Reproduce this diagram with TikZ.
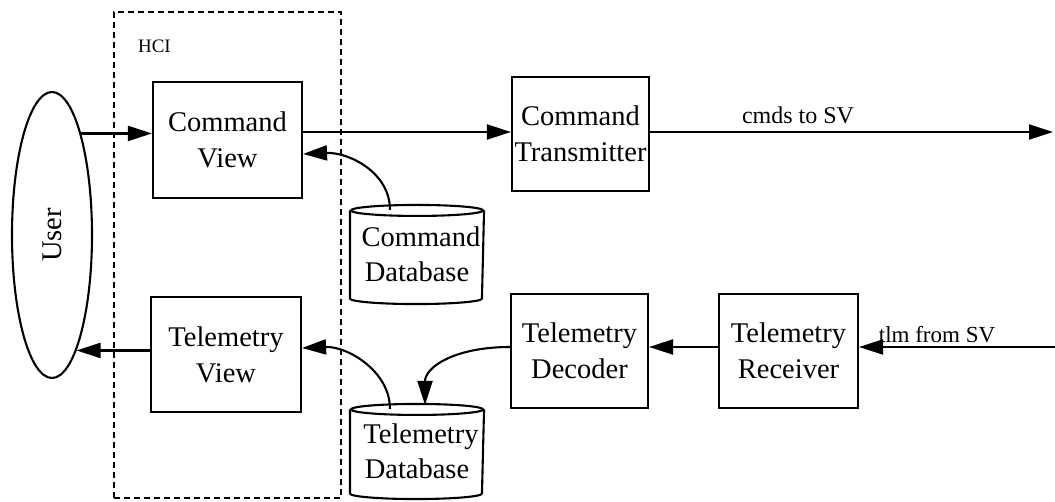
\documentclass[tikz,border=0pt]{standalone}
\usepackage{fontspec}
\setmainfont{Liberation Serif}
\usetikzlibrary{arrows.meta,calc,shapes.geometric}
\begin{document}
\begin{tikzpicture}[x=1pt,y=-1pt,
  line width=2.1pt,
  box/.style={draw, rectangle, inner sep=0pt, align=center, font=\fontsize{28.5}{36}\selectfont},
  dbbox/.style={rectangle, inner sep=0pt, align=center, minimum width=132pt, font=\fontsize{28.5}{35}\selectfont},
  arr/.style={-{Triangle[length=24pt,width=15pt]}},
  lbl/.style={inner sep=0pt, anchor=base, font=\fontsize{24}{28}\selectfont},
  hcibox/.style={draw, rectangle, dash pattern=on 6pt off 4pt, line width=1.4pt, minimum width=227pt, minimum height=486pt, inner sep=0pt},
]
\useasboundingbox (0,0) rectangle (1055,502);

% HCI boundary
\node[hcibox] (hci) at (227.5,255) {};
\node[inner sep=0pt, anchor=base west, font=\fontsize{19}{22}\selectfont] (hcil) at (137,53) {HCI};

% User
\node[draw, ellipse, minimum width=80pt, minimum height=286pt, inner sep=0pt,
      font=\fontsize{28.5}{34}\selectfont] (user) at (52,235) {\rotatebox{90}{User}};

% boxes
\node[box, minimum width=149pt, minimum height=116pt] (cv) at (227.5,140) {Command\\View};
\node[box, minimum width=150pt, minimum height=115pt] (tv) at (226,354.5) {Telemetry\\View};
\node[box, minimum width=137pt, minimum height=114pt] (ct) at (580.5,134) {Command\\Transmitter};
\node[box, minimum width=137pt, minimum height=114pt] (td) at (579.5,351) {Telemetry\\Decoder};
\node[box, minimum width=139pt, minimum height=114pt] (tr) at (788.5,351) {Telemetry\\Receiver};

% databases
\node[dbbox, minimum height=97pt] (cdb) at (417,254.5) {\hspace*{8pt}Command\\Database};
\node[dbbox, minimum height=93pt] (tdb) at (417,451.5) {\hspace*{8pt}Telemetry\\Database};
\foreach \n in {cdb,tdb}{
  \draw ($(\n.north west)+(0,5.5)$) -- ($(\n.south west)+(0,-5.5)$)
        arc[start angle=180, end angle=360, x radius=66pt, y radius=5.5pt]
        -- ($(\n.north east)+(0,5.5)$);
  \draw ($(\n.north)+(0,5.5)$) ellipse[x radius=66pt, y radius=5.5pt];
}

% helper coordinates
\coordinate (r1) at (0,132);
\coordinate (svout) at (1053,132);
\coordinate (svin) at (1055,347);
\coordinate (cdbtop) at ($(cdb.north)+(-27,5)$);
\coordinate (cvin) at ($(cv.east)+(0,14)$);
\coordinate (tdbtop) at ($(tdb.north)+(-27,5)$);
\coordinate (tvin) at ($(tv.east)+(0,-6.5)$);
\coordinate (tdbin) at ($(tdb.north)+(8,1)$);

% connectors
\draw[arr] (user.74) -- (cv.west |- user.74);
\draw[arr] (tv.west |- user.-78) -- (user.-78);
\draw[arr] (cv.east |- r1) -- (ct.west |- r1);
\draw[arr] (ct.east |- svout) -- (svout);
\node[lbl] (cmds) at (798,124) {cmds to SV};
\draw[arr] (svin) -- (tr.east |- svin);
\node[lbl, font=\fontsize{23}{27}\selectfont] (tlm) at (937,343) {tlm from SV};
\draw[arr] (tr.west |- svin) -- (td.east |- svin);
\draw[arr] (cdbtop) .. controls +(0,-38) and +(45,-2) .. (cvin);
\draw[arr] (tdbtop) .. controls +(0,-38) and +(45,-2) .. (tvin);
\draw[arr] (td.west |- svin) .. controls +(-55,0) and +(0,-38) .. (tdbin);
\end{tikzpicture}
\end{document}
